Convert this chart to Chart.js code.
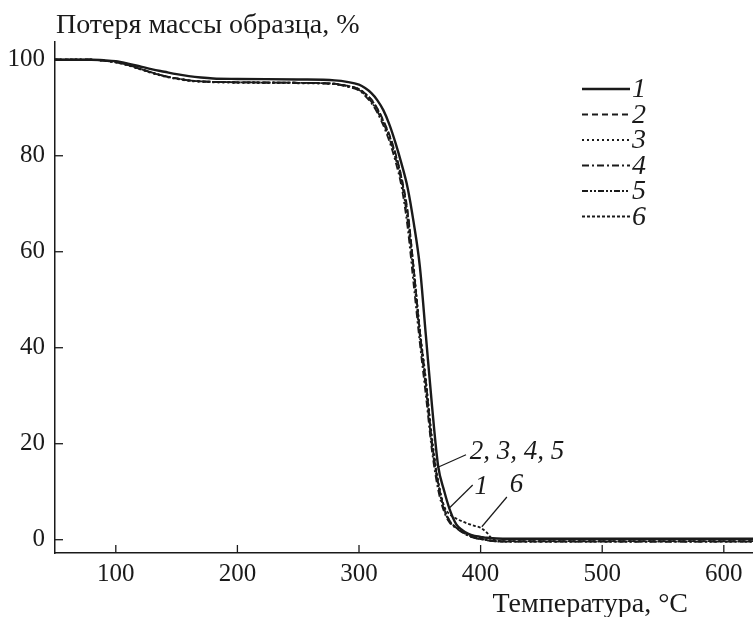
<!DOCTYPE html>
<html>
<head>
<meta charset="utf-8">
<title>Потеря массы образца</title>
<script src="https://cdn.jsdelivr.net/npm/chart.js"></script>
<style>
  body { margin: 0; background: #fff; }
</style>
</head>
<body>
<canvas id="myChart" width="753" height="617"></canvas>
<script>
  // temperature, °C
  const temps = [50, 80, 90, 100, 110, 120, 130, 140, 150, 160, 170, 180,
    200, 250, 280, 290,
    300, 305, 310, 315, 320, 325, 330, 335, 340, 345, 350, 355, 360, 365, 370, 375, 380, 385, 390, 395, 400, 405, 410,
    420, 450, 500, 550, 600, 624];

  // mass, % (one array per sample)
  const curve1 = [100, 100, 99.9, 99.7, 99.2, 98.6, 98.0, 97.5, 97.0, 96.6, 96.3, 96.1,
    96.0, 95.9, 95.7, 95.4,
    94.8, 94.1, 93.1, 91.6, 89.5, 86.5, 82.7, 78.3, 73.3, 66.0, 57.0, 42.5, 28.0, 15.5, 10.2, 6.0, 3.2, 2.0, 1.2, 0.8, 0.6, 0.4, 0.3,
    0.2, 0.2, 0.2, 0.2, 0.2, 0.2];
  const curve2 = [100, 100, 99.8, 99.5, 98.9, 98.1, 97.3, 96.6, 96.1, 95.7, 95.5, 95.4,
    95.3, 95.2, 95.0, 94.6,
    93.9, 93.0, 91.8, 89.9, 87.4, 84.4, 80.5, 75.5, 68.5, 56.5, 43.5, 33.0, 20.5, 12.0, 6.5, 3.8, 2.5, 1.6, 0.9, 0.5, 0.2, 0.0, -0.2,
    -0.3, -0.3, -0.3, -0.3, -0.3, -0.3];
  const curve3 = [100, 100, 99.8, 99.4, 98.8, 98.0, 97.2, 96.5, 96.0, 95.6, 95.4, 95.3,
    95.2, 95.1, 94.9, 94.5,
    93.8, 92.8, 91.5, 89.6, 87.0, 84.0, 80.0, 75.0, 68.0, 57.0, 44.0, 33.5, 21.5, 12.5, 6.8, 3.8, 2.6, 1.7, 1.0, 0.5, 0.2, 0.0, -0.2,
    -0.4, -0.4, -0.4, -0.4, -0.4, -0.4];
  const curve4 = [100, 100, 99.8, 99.5, 98.9, 98.1, 97.3, 96.6, 96.1, 95.7, 95.5, 95.4,
    95.3, 95.2, 94.9, 94.4,
    93.6, 92.5, 91.0, 89.0, 86.3, 83.0, 78.8, 73.5, 65.0, 53.0, 41.0, 30.0, 18.5, 10.5, 5.8, 3.4, 2.4, 1.5, 0.8, 0.4, 0.1, -0.1, -0.3,
    -0.4, -0.4, -0.4, -0.4, -0.4, -0.4];
  const curve5 = [100, 100, 99.8, 99.5, 98.9, 98.1, 97.3, 96.6, 96.1, 95.7, 95.5, 95.4,
    95.3, 95.2, 95.0, 94.5,
    93.7, 92.7, 91.3, 89.3, 86.8, 83.6, 79.5, 74.5, 66.5, 55.0, 42.5, 31.5, 19.5, 11.5, 6.2, 3.6, 2.5, 1.6, 0.9, 0.4, 0.1, -0.1, -0.3,
    -0.4, -0.4, -0.4, -0.4, -0.4, -0.4];
  const curve6 = [100, 100, 99.8, 99.5, 98.9, 98.1, 97.3, 96.6, 96.1, 95.7, 95.5, 95.4,
    95.3, 95.2, 95.0, 94.6,
    93.9, 93.0, 91.7, 89.8, 87.2, 84.2, 80.3, 75.3, 67.5, 56.0, 43.5, 32.5, 20.5, 12.0, 7.0, 5.2, 4.4, 3.8, 3.3, 2.9, 2.5, 1.5, 0.1,
    -0.3, -0.3, -0.3, -0.3, -0.3, -0.3];

  const seriesNames = ["1", "2", "3", "4", "5", "6"];
  const xTicks = [100, 200, 300, 400, 500, 600];
  const yTicks = [0, 20, 40, 60, 80, 100];

  // leader notes: [T, %] of line start, line end, text position
  const notes = [
    { text: "2, 3, 4, 5", from: [364, 15], to: [388, 17.7], at: [391, 18.3] },
    { text: "1", from: [374.7, 6.7], to: [393.5, 11.4], at: [395, 11] },
    { text: "6", from: [401, 2.7], to: [421.6, 8.9], at: [424, 11.4] }
  ];

  const allCurves = [curve1, curve2, curve3, curve4, curve5, curve6];
  const dashes = [[], [6, 4], [2, 3], [7, 3, 2, 3], [6, 2, 2, 2, 2, 2], [3, 2]];
  const widths = [2.4, 1.8, 1.8, 1.8, 1.8, 1.8];

  const FONT = '"Liberation Serif", "Times New Roman", serif';
  const INK = "#1a1a1a";

  const datasets = allCurves.map((c, i) => ({
    label: seriesNames[i],
    data: temps.map((t, j) => ({ x: t, y: c[j] })),
    borderColor: INK,
    borderWidth: widths[i],
    borderDash: dashes[i],
    pointRadius: 0,
    cubicInterpolationMode: "monotone",
    fill: false
  }));

  const decor = {
    id: "decor",
    afterDraw(chart) {
      const ctx = chart.ctx;
      const xs = chart.scales.x, ys = chart.scales.y;
      const seg = (x1, y1, x2, y2) => {
        ctx.beginPath(); ctx.moveTo(x1, y1); ctx.lineTo(x2, y2); ctx.stroke();
      };
      ctx.save();
      ctx.strokeStyle = INK;
      ctx.fillStyle = INK;
      ctx.lineWidth = 1.3;
      // inner ticks
      xTicks.forEach(v => {
        const px = xs.getPixelForValue(v);
        seg(px, ys.bottom, px, ys.bottom - 8);
      });
      yTicks.forEach(v => {
        const py = ys.getPixelForValue(v);
        seg(xs.left, py, xs.left + 8, py);
      });

      // axis titles
      ctx.font = "28px " + FONT;
      ctx.textBaseline = "alphabetic";
      ctx.textAlign = "left";
      ctx.fillText("Потеря массы образца, %", xs.left + 1, 33);
      ctx.textAlign = "right";
      ctx.fillText("Температура, °C", 688, 612);

      // legend
      ctx.font = "italic 28px " + FONT;
      ctx.textAlign = "left";
      ctx.textBaseline = "middle";
      chart.data.datasets.forEach((ds, i) => {
        const py = 89 + i * 25.5;
        ctx.setLineDash(ds.borderDash);
        ctx.lineWidth = ds.borderWidth;
        seg(582, py, 630, py);
        ctx.setLineDash([]);
        ctx.fillText(ds.label, 632, py + 1);
      });

      // leader notes
      ctx.font = "italic 27px " + FONT;
      ctx.lineWidth = 1.2;
      notes.forEach(n => {
        seg(xs.getPixelForValue(n.from[0]), ys.getPixelForValue(n.from[1]),
            xs.getPixelForValue(n.to[0]), ys.getPixelForValue(n.to[1]));
        ctx.fillText(n.text, xs.getPixelForValue(n.at[0]), ys.getPixelForValue(n.at[1]));
      });
      ctx.restore();
    }
  };

  const config = {
    type: "line",
    data: { datasets: datasets },
    options: {
      responsive: false,
      animation: false,
      layout: { padding: { top: 42, left: 0, right: 0, bottom: 0 } },
      plugins: {
        legend: { display: false },
        tooltip: { enabled: false }
      },
      scales: {
        x: {
          type: "linear",
          min: 50,
          max: 624,
          afterBuildTicks: s => { s.ticks = xTicks.map(v => ({ value: v })); },
          afterFit: s => { s.height = 64; },
          grid: { display: false, drawTicks: false },
          border: { display: true, color: INK, width: 1.5 },
          ticks: { font: { family: FONT, size: 25 }, color: INK, padding: 6, maxRotation: 0 }
        },
        y: {
          type: "linear",
          min: -2.77,
          max: 103.7,
          afterBuildTicks: s => { s.ticks = yTicks.map(v => ({ value: v })); },
          afterFit: s => { s.width = 55; },
          grid: { display: false, drawTicks: false },
          border: { display: true, color: INK, width: 1.5 },
          ticks: { font: { family: FONT, size: 25 }, color: INK, padding: 10 }
        }
      }
    },
    plugins: [decor]
  };

  var myChart = new Chart(document.getElementById("myChart"), config);
</script>
</body>
</html>
